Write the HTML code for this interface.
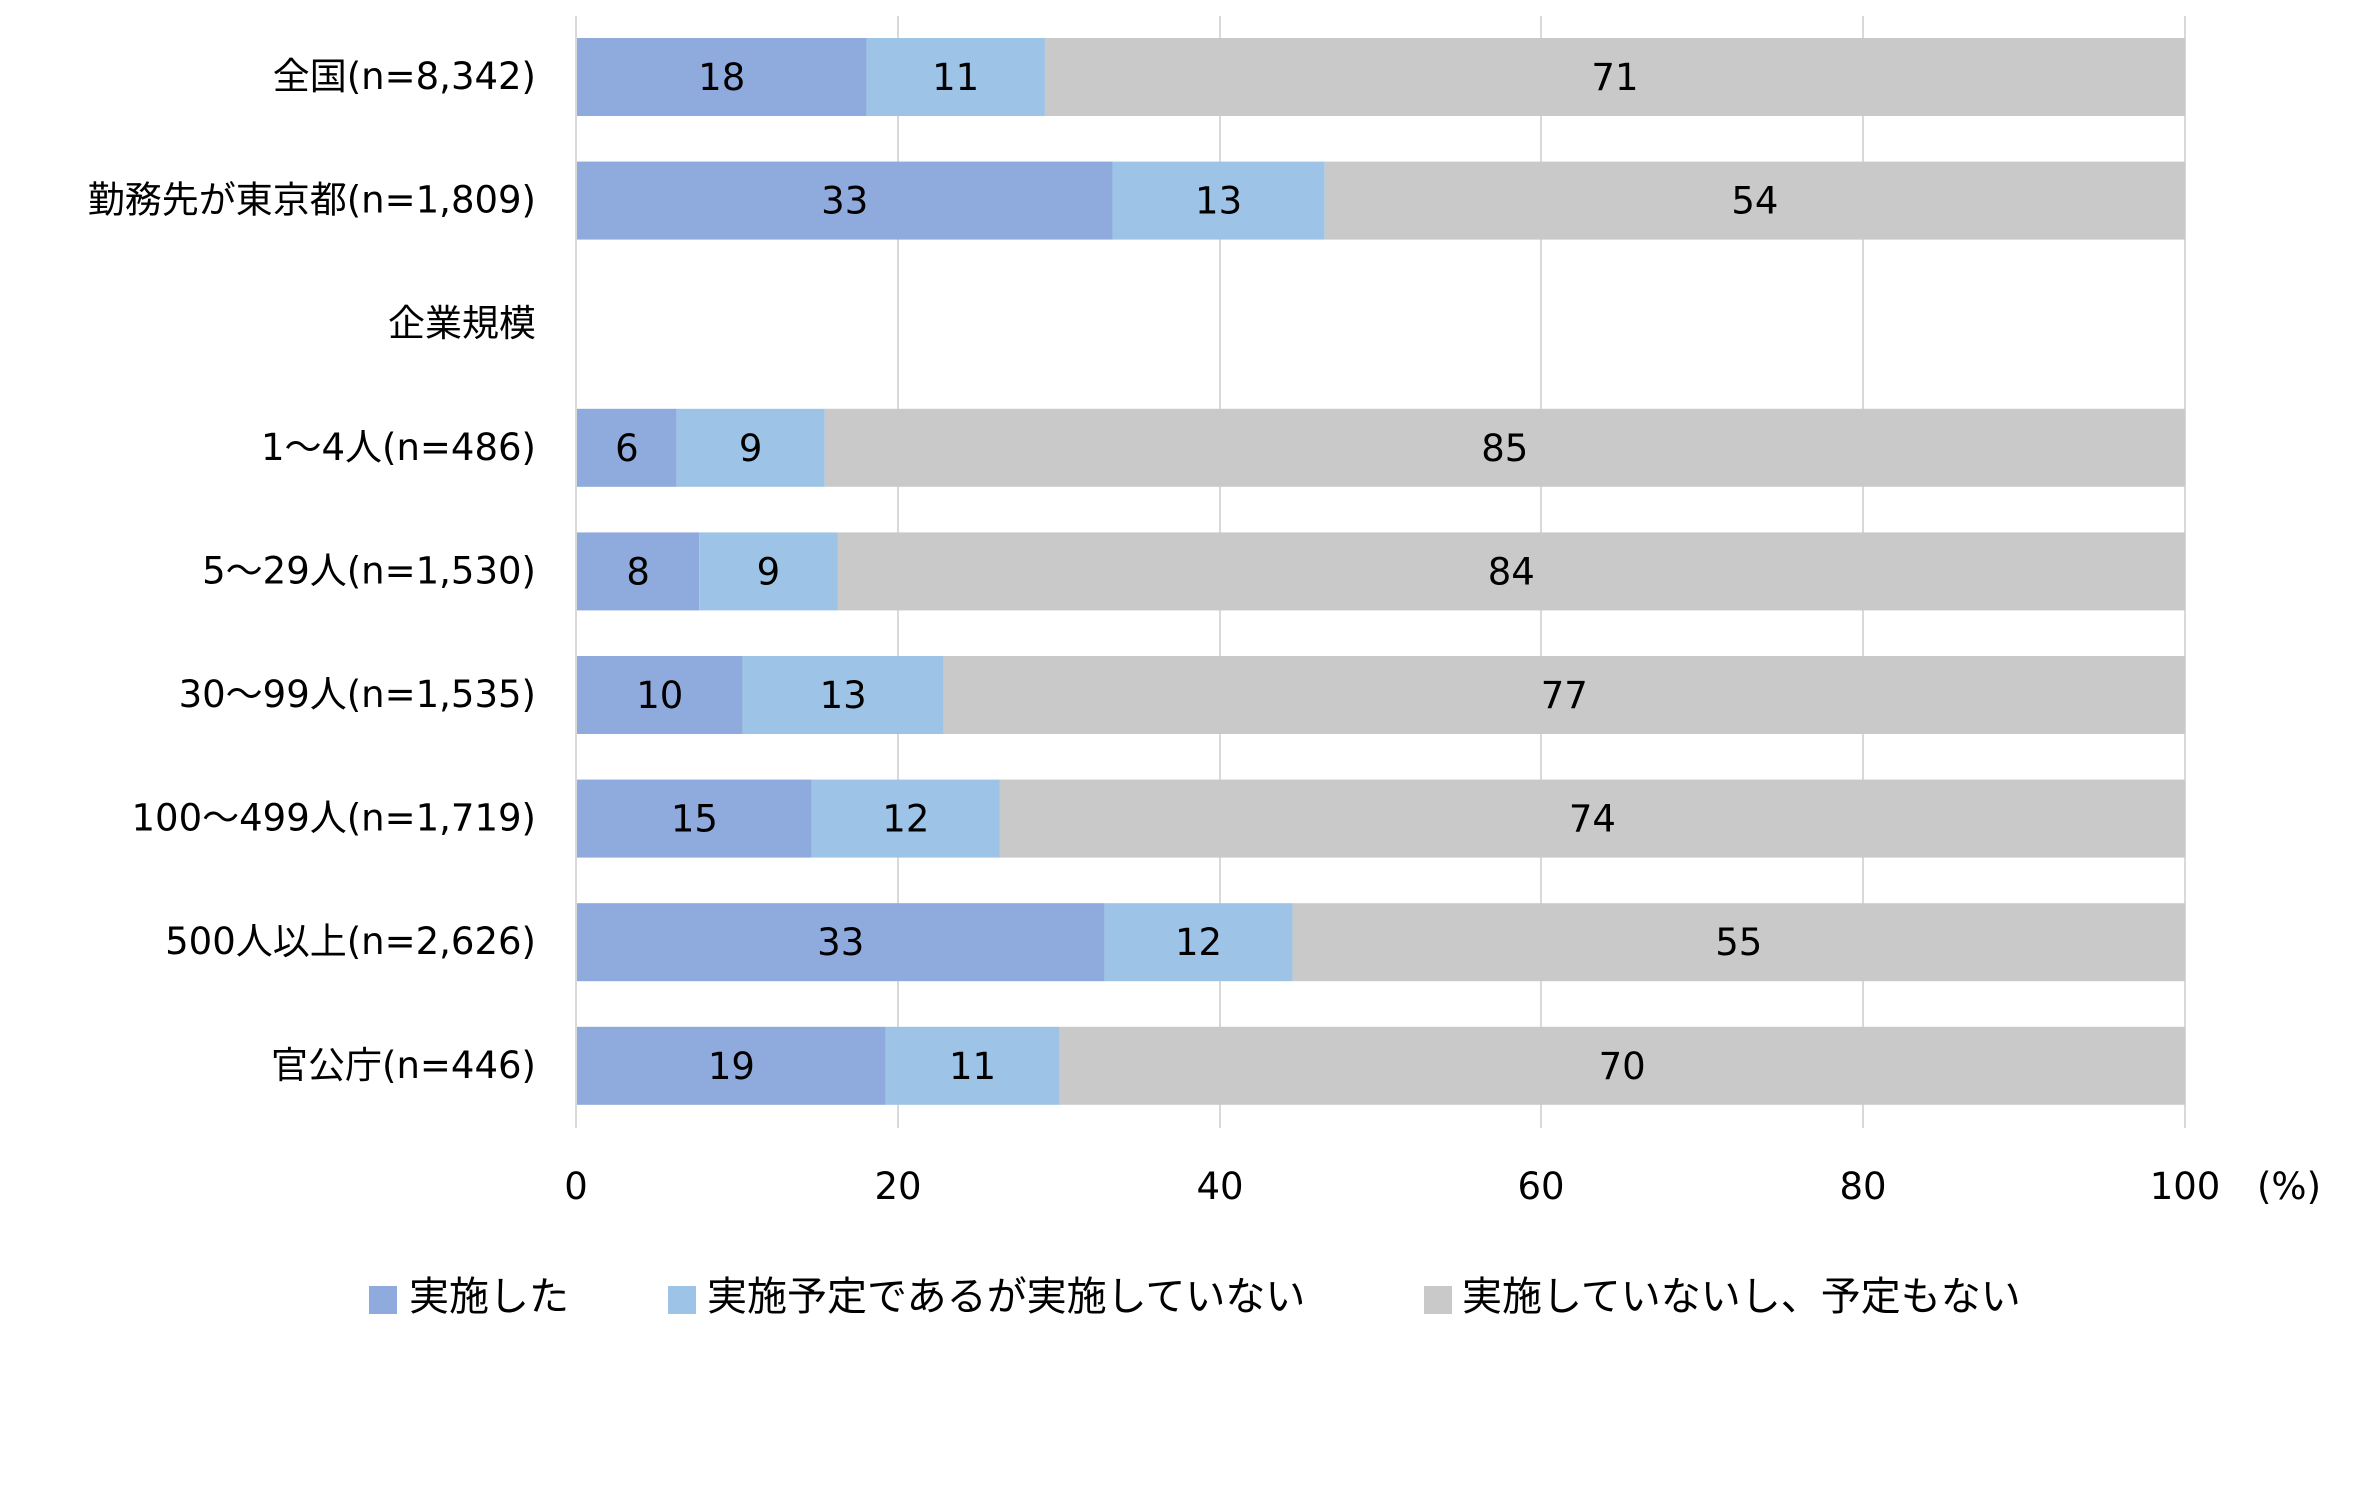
<!DOCTYPE html>
<html><head><meta charset="utf-8"><style>
html,body{margin:0;padding:0;background:#fff}
svg{display:block}
text{font-family:"DejaVu Sans","Noto Sans CJK JP",sans-serif;fill:#000}
</style></head><body>
<svg width="2378" height="1487" viewBox="0 0 2378 1487" xmlns="http://www.w3.org/2000/svg">
<g stroke="#D9D9D9" stroke-width="2">
<line x1="576" y1="16" x2="576" y2="1128"/>
<line x1="898" y1="16" x2="898" y2="1128"/>
<line x1="1220" y1="16" x2="1220" y2="1128"/>
<line x1="1541" y1="16" x2="1541" y2="1128"/>
<line x1="1863" y1="16" x2="1863" y2="1128"/>
<line x1="2185" y1="16" x2="2185" y2="1128"/>
</g>
<g id="bars"></g>
<g font-size="37" text-anchor="end" id="cats"></g>
<g font-size="37" text-anchor="middle">
<text x="576" y="1199">0</text>
<text x="898" y="1199">20</text>
<text x="1220" y="1199">40</text>
<text x="1541" y="1199">60</text>
<text x="1863" y="1199">80</text>
<text x="2185" y="1199">100</text>
<text x="2289" y="1199">(%)</text>
</g>
<rect x="369" y="1286" width="28" height="28" fill="#8FAADC"/>
<text x="409" y="1310" font-size="40">実施した</text>
<rect x="668" y="1286" width="28" height="28" fill="#9DC3E6"/>
<text x="707" y="1310" font-size="40">実施予定であるが実施していない</text>
<rect x="1424" y="1286" width="28" height="28" fill="#C9C9C9"/>
<text x="1462" y="1310" font-size="40">実施していないし、予定もない</text>
</svg>
<script>
const data=[["全国(n=8,342)",[18,11,71],[18.0,29.1]],["勤務先が東京都(n=1,809)",[33,13,54],[33.3,46.5]],["企業規模",null],["1～4人(n=486)",[6,9,85],[6.2,15.4]],["5～29人(n=1,530)",[8,9,84],[7.6,16.2]],["30～99人(n=1,535)",[10,13,77],[10.3,22.8]],["100～499人(n=1,719)",[15,12,74],[14.6,26.3]],["500人以上(n=2,626)",[33,12,55],[32.8,44.5]],["官公庁(n=446)",[19,11,70],[19.2,30.0]]];
const cols=["#8FAADC","#9DC3E6","#C9C9C9"];
const ns="http://www.w3.org/2000/svg";
const bars=document.getElementById("bars"),cats=document.getElementById("cats");
const x0=577,sc=(2185-577)/100;
data.forEach((d,i)=>{
 const cy=77+123.6*i;
 const t=document.createElementNS(ns,"text");t.setAttribute("x",536);t.setAttribute("y",cy+12);t.textContent=d[0];cats.appendChild(t);
 if(!d[1])return;
 const b=[0,d[2][0],d[2][1],100];
 d[1].forEach((v,j)=>{
  const x=x0+b[j]*sc,w=(b[j+1]-b[j])*sc;
  const r=document.createElementNS(ns,"rect");r.setAttribute("x",x);r.setAttribute("y",cy-39);r.setAttribute("width",w);r.setAttribute("height",78);r.setAttribute("fill",cols[j]);bars.appendChild(r);
  const l=document.createElementNS(ns,"text");l.setAttribute("x",x+w/2);l.setAttribute("y",cy+13);l.setAttribute("font-size","37");l.setAttribute("text-anchor","middle");l.textContent=v;bars.appendChild(l);
 });
});
</script>
</body></html>
